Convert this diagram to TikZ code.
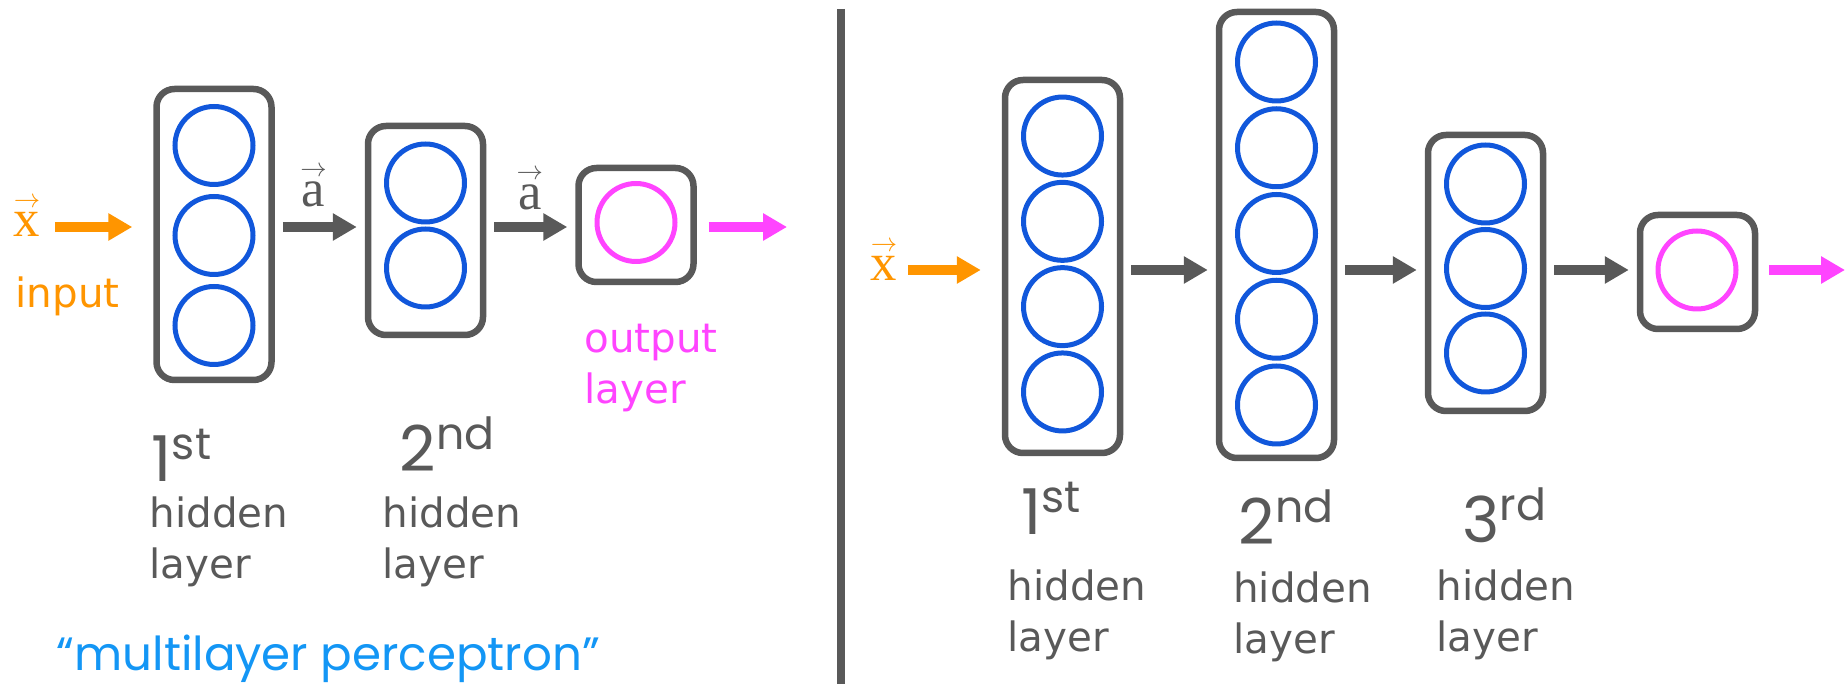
\documentclass[tikz,border=0pt]{standalone}
\usepackage{fontspec}
\setmainfont{DejaVu Sans}
\newfontfamily\handfont{Poppins}
\newfontfamily\vecfont{Liberation Serif}
\usepackage{xcolor}
\usetikzlibrary{arrows.meta}
\definecolor{boxgray}{HTML}{595959}
\definecolor{nodeblue}{HTML}{1157DB}
\definecolor{outpink}{HTML}{FF44FF}
\definecolor{inorange}{HTML}{FF9500}
\definecolor{noteblue}{HTML}{1396F5}
\newcommand{\vecsym}[1]{\vbox{\offinterlineskip\halign{\hfil##\hfil\cr
  \resizebox{0.5em}{!}{$\rightarrow$}\cr\noalign{\kern1.5pt}\vecfont #1\cr}}}

\begin{document}
\begin{tikzpicture}[x=0.1mm, y=-0.1mm,
  layerbox/.style={draw=boxgray, line width=0.65mm, rounded corners=1.8mm, minimum width=11.5mm},
  neuron/.style={circle, draw=nodeblue, line width=0.5mm, minimum size=7.8mm, inner sep=0pt},
  outneuron/.style={neuron, draw=outpink},
  flow/.style={line width=1mm, -{Triangle[length=2.4mm, width=2.6mm]}, shorten <=0.8mm, shorten >=0.8mm},
  vecsty/.style={inner sep=0pt, font=\fontsize{15}{15}\selectfont},
  plaintext/.style={inner sep=0pt, font=\fontsize{11.5}{14.6}\selectfont},
  hidtext/.style={plaintext, anchor=north west, align=left, text=boxgray},
  ordtext/.style={inner sep=0pt, anchor=base west, text=boxgray, font=\handfont\fontsize{18}{18}\selectfont}]
  \useasboundingbox (0,0) rectangle (1845,684);

  \foreach \name/\x/\y/\h in {L1/214/234.5/291, L2/425.5/230.5/209, L3/636/225/114,
      R1/1062.5/266.5/373, R2/1276.5/235/446, R3/1485.5/273/276, R4/1697.5/272/114}
    \node[layerbox, minimum height=\h*0.1mm] (\name) at (\x,\y) {};

  \foreach \name/\x/\cy/\n/\s in {L1/214/235.5/3/90, L2/425.5/225.5/2/85,
      R1/1062.5/264/4/85.3, R2/1276.5/233.5/5/85.75, R3/1485.5/268.5/3/84.5}
    \foreach \i in {1,...,\n}
      \node[neuron] (\name-\i) at (\x,{\cy+(\i-(\n+1)/2)*\s}) {};
  \node[outneuron] (L3-1) at (636,222.5) {};
  \node[outneuron] (R4-1) at (1697,270) {};

  \coordinate (lrow) at (0,227);
  \coordinate (rrow) at (0,270);
  \coordinate (lout) at (787,227);
  \coordinate (rout) at (1845,270);

  \node[vecsty, anchor=base, text=inorange] (xl) at (27,237) {\vecsym{x}};
  \node[vecsty, anchor=base, text=inorange] (xr) at (884,281) {\vecsym{x}};
  \node[plaintext, anchor=base west, text=inorange] (inlbl) at (15,308) {input};

  \draw[flow, inorange, shorten <=1.4mm, shorten >=2.1mm] (xl.east |- lrow) -- (L1.west |- lrow);
  \draw[flow, boxgray] (L1.east |- lrow) -- node[vecsty, pos=0.43, above=1.5mm, text=boxgray] (a1) {\vecsym{a}} (L2.west |- lrow);
  \draw[flow, boxgray] (L2.east |- lrow) -- node[vecsty, pos=0.49, above=1.2mm, text=boxgray] (a2) {\vecsym{a}} (L3.west |- lrow);
  \draw[flow, outpink, shorten <=1.2mm, shorten >=0mm] (L3.east |- lrow) -- (lout);

  \draw[flow, inorange, shorten <=1.0mm, shorten >=2.1mm] (xr.east |- rrow) -- (R1.west |- rrow);
  \draw[flow, boxgray] (R1.east |- rrow) -- (R2.west |- rrow);
  \draw[flow, boxgray] (R2.east |- rrow) -- (R3.west |- rrow);
  \draw[flow, boxgray] (R3.east |- rrow) -- (R4.west |- rrow);
  \draw[flow, outpink, shorten <=1.1mm, shorten >=0mm] (R4.east |- rrow) -- (rout);

  \node[hidtext, text=outpink] (outlbl) at (583.6,323) {output\\layer};
  \node[ordtext] (o1L) at (151,482) {1\textsuperscript{st}};
  \node[ordtext] (o2L) at (399,472) {2\textsuperscript{nd}};
  \node[hidtext] (hL1) at (149,496) {hidden\\layer};
  \node[hidtext] (hL2) at (382,496) {hidden\\layer};
  \node[inner sep=0pt, anchor=base west, text=noteblue, font=\handfont\fontsize{13.3}{15}\selectfont] (mlp) at (56,671) {“multilayer perceptron”};

  \draw[boxgray, line width=0.8mm] (840.7,9) -- (840.7,684);

  \node[ordtext] (o1R) at (1020.5,535) {1\textsuperscript{st}};
  \node[ordtext] (o2R) at (1238,545) {2\textsuperscript{nd}};
  \node[ordtext] (o3R) at (1462,543) {3\textsuperscript{rd}};
  \node[hidtext] (hR1) at (1007,569) {hidden\\layer};
  \node[hidtext] (hR2) at (1232.6,571) {hidden\\layer};
  \node[hidtext] (hR3) at (1436,569) {hidden\\layer};
\end{tikzpicture}
\end{document}
